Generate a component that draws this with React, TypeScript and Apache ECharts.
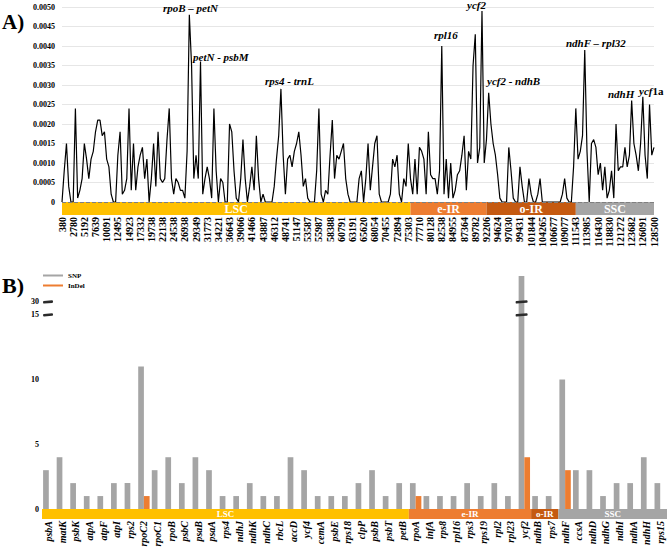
import React, { useEffect, useRef } from "react";
import * as echarts from "echarts";

// ---------- Panel A data ----------
const TICK_LABELS = [
  "380", "2780", "5192", "7639", "10091", "12495", "14923", "17332", "19738", "22138",
  "24538", "26938", "29349", "31773", "34221", "36643", "39066", "41466", "43887", "46312",
  "48741", "51147", "53587", "55987", "58388", "60791", "63191", "65620", "68054", "70455",
  "72894", "75303", "77710", "80128", "82538", "84955", "87364", "89782", "92206", "94624",
  "97030", "99431", "101844", "104265", "106677", "109077", "111543", "113985", "116430", "118830",
  "121272", "123682", "126091", "128500",
];
const POINTS_PER_TICK = 5;

const PI_VALUES = [
  0, 0.0008, 0.0015, 0.0004, 0, 0, 0.0024, 0.0001, 0.0003, 0.0006,
  0.0015, 0.0011, 0.0006, 0.0011, 0.0013, 0.0018, 0.0021, 0.0021, 0.0017, 0.0018,
  0.0011, 0.0009, 0.0002, 0, 0, 0.0012, 0.0018, 0.0002, 0.0003, 0.0006,
  0.0024, 0.0003, 0.0015, 0.0003, 0.0009, 0.0012, 0.0014, 0.0006, 0.0011, 0,
  0.0006, 0.0015, 0.0004, 0.0018, 0.0006, 0.0005, 0.0006, 0.0016, 0.0024, 0.0006,
  0.0002, 0.0006, 0.0005, 0.0003, 0.0003, 0.0001, 0.0013, 0.0048, 0.0035, 0.0006,
  0.0012, 0.0006, 0.0036, 0.0002, 0.0006, 0.0009, 0.0006, 0.0001, 0.0024, 0.0008,
  0, 0.0006, 0.0005, 0, 0, 0.002, 0.0018, 0.0008, 0.0001, 0,
  0.0006, 0.0016, 0.0006, 0, 0.0004, 0.0009, 0.0003, 0.0017, 0.0006, 0,
  0.0002, 0, 0, 0, 0, 0.0004, 0.0011, 0.0017, 0.0029, 0.0012,
  0.0002, 0.0011, 0.0012, 0.0009, 0.0013, 0.0015, 0.0018, 0.0012, 0.0004, 0.0006,
  0.0001, 0, 0, 0, 0.0008, 0.0024, 0.0002, 0, 0.0003, 0.0002,
  0.0012, 0.0021, 0.0006, 0.0012, 0.0011, 0.0013, 0.0015, 0.0006, 0.0002, 0,
  0, 0, 0, 0.0006, 0.0008, 0, 0.0006, 0.0015, 0.0003, 0.0009,
  0.0015, 0.0017, 0.0002, 0, 0, 0, 0, 0.0002, 0.0011, 0.0009,
  0.0012, 0.0002, 0, 0.0006, 0.0004, 0.0015, 0.0006, 0.0002, 0.0011, 0.0002,
  0.0014, 0.0013, 0.0011, 0.0002, 0.0018, 0.0007, 0.0006, 0.0006, 0.0002, 0.0008,
  0.004, 0.0002, 0.0011, 0.0001, 0.001, 0.0001, 0.0003, 0.0007, 0.0008, 0.0012,
  0.0017, 0.0003, 0.0013, 0.0011, 0.0035, 0.0043, 0.001, 0.0014, 0.0049, 0.001,
  0.0016, 0.0028, 0.002, 0.0015, 0.0012, 0.0007, 0.0001, 0, 0, 0,
  0.0014, 0.0008, 0.0001, 0, 0, 0.0009, 0.0004, 0, 0, 0.0006,
  0.0002, 0, 0, 0.0002, 0.0006, 0, 0, 0, 0, 0,
  0, 0, 0, 0, 0.0002, 0.0006, 0.0001, 0, 0, 0.0009,
  0.0024, 0.0011, 0.0013, 0.0017, 0.0039, 0.0013, 0, 0.0015, 0.0016, 0.0014,
  0.0007, 0.001, 0.0003, 0.0009, 0.0001, 0.0003, 0.0008, 0.0001, 0.002, 0.0008,
  0.0009, 0.0009, 0.0014, 0.0009, 0.0012, 0.0026, 0.0015, 0.0012, 0.0008, 0.0015,
  0.0027, 0.0012, 0.0006, 0.0025, 0.0012, 0.0014,
];
const PI_THRESHOLD = 0.0025;

const REGIONS = ["LSC", "e-IR", "o-IR", "SSC"];
const REGION_A_SPANS = [156, 34, 40, 35];
const REGION_COLORS = ["#FFC000", "#ED7D31", "#C55A11", "#A5A5A5"];

// ---------- Panel B data ----------
const GENES = [
  "psbA", "matK", "psbK", "atpA", "atpF", "atpI", "rps2", "rpoC2", "rpoC1", "rpoB",
  "psbC", "psaB", "psaA", "rps4", "ndhJ", "ndhK", "ndhC", "rbcL", "accD", "ycf4",
  "cemA", "psbE", "rps18", "clpP", "psbB", "psbT", "petB", "rpoA", "infA", "rps8",
  "rpl16", "rps3", "rps19", "rpl2", "rpl23", "ycf2", "ndhB", "rps7", "ndhF", "ccsA",
  "ndhD", "ndhG", "ndhI", "ndhA", "ndhH", "rps15",
];
const SNP = [
  3, 4, 2, 1, 1, 2, 2, 11, 3, 4,
  2, 4, 3, 1, 1, 2, 1, 1, 4, 3,
  1, 1, 1, 2, 3, 1, 2, 2, 1, 1,
  1, 2, 1, 2, 1, 32, 1, 1, 10, 3,
  3, 1, 2, 2, 4, 2,
];
const INDEL = [
  0, 0, 0, 0, 0, 0, 0, 1, 0, 0,
  0, 0, 0, 0, 0, 0, 0, 0, 0, 0,
  0, 0, 0, 0, 0, 0, 0, 1, 0, 0,
  0, 0, 0, 0, 0, 4, 0, 0, 3, 0,
  0, 0, 0, 0, 0, 0,
];
const REGION_B_SPANS = [27, 9, 2, 8];
const B_TICKS = [0, 5, 10, 15, 30];
const BREAK_LOW = 15;
const BREAK_HIGH = 30;

const FONT = "'Times New Roman', 'Liberation Serif', serif";

// broken axis: values above the break are shifted down so that 30 sits just above 15
const toDisplay = (v: number) => (v > BREAK_LOW ? v - (BREAK_HIGH - BREAK_LOW - 1) : v);
const fromDisplay = (d: number) => (d > BREAK_LOW ? d + (BREAK_HIGH - BREAK_LOW - 1) : d);

function regionSeries(spans: number[], xi: number, yi: number, stack: string, fontSize: number) {
  return REGIONS.map((name, k) => ({
    type: "bar",
    name,
    xAxisIndex: xi,
    yAxisIndex: yi,
    stack,
    barWidth: "100%",
    silent: true,
    data: [spans[k]],
    itemStyle: { color: REGION_COLORS[k] },
    label: {
      show: true,
      position: "inside",
      formatter: name,
      color: "#fff",
      fontFamily: FONT,
      fontWeight: "bold",
      fontSize,
    },
  }));
}

export default function App() {
  const ref = useRef<HTMLDivElement>(null);

  useEffect(() => {
    const chart = echarts.init(ref.current!, null, { renderer: "svg" });
    const totalA = REGION_A_SPANS.reduce((a, b) => a + b, 0);
    const totalB = REGION_B_SPANS.reduce((a, b) => a + b, 0);

    const option: any = {
      animation: false,
      backgroundColor: "#fff",
      grid: [
        { left: 62, top: 7, width: 592, height: 195 },
        { left: 62, top: 202, width: 592, height: 13 },
        { left: 42, top: 276, width: 625, height: 233 },
        { left: 42, top: 509, width: 625, height: 10 },
      ],
      legend: {
        data: ["SNP", "InDel"],
        orient: "vertical",
        left: 43,
        top: 272,
        padding: 0,
        itemWidth: 20,
        itemHeight: 2,
        itemGap: 3,
        icon: "rect",
        selectedMode: false,
        textStyle: { fontFamily: FONT, fontWeight: "bold", fontSize: 7, color: "#000" },
      },
      xAxis: [
        {
          gridIndex: 0,
          type: "category",
          data: PI_VALUES.map((_, i) => String(i)),
          boundaryGap: false,
          axisLine: { show: false },
          axisTick: { show: false },
          splitLine: { show: false },
          axisLabel: {
            interval: POINTS_PER_TICK - 1,
            rotate: 90,
            margin: 15,
            fontFamily: FONT,
            fontWeight: "bold",
            fontSize: 10,
            color: "#000",
            formatter: (v: string) => TICK_LABELS[Number(v) / POINTS_PER_TICK] ?? "",
          },
        },
        { gridIndex: 1, type: "value", min: 0, max: totalA, show: false },
        {
          gridIndex: 2,
          type: "category",
          data: GENES,
          axisLine: { show: false },
          axisTick: { show: false },
          axisLabel: {
            interval: 0,
            rotate: 90,
            margin: 12,
            fontFamily: FONT,
            fontStyle: "italic",
            fontWeight: "bold",
            fontSize: 10,
            color: "#000",
          },
        },
        { gridIndex: 3, type: "value", min: 0, max: totalB, show: false },
      ],
      yAxis: [
        {
          gridIndex: 0,
          type: "value",
          min: 0,
          max: 0.005,
          interval: 0.0005,
          axisLine: { show: false },
          axisTick: { show: false },
          splitLine: { lineStyle: { color: "#e6e6e6", width: 1 } },
          axisLabel: {
            margin: 7,
            fontFamily: FONT,
            fontWeight: "bold",
            fontSize: 8,
            color: "#000",
            formatter: (v: number) => (v === 0 ? "0" : v.toFixed(4)),
          },
        },
        { gridIndex: 1, type: "category", data: ["A"], show: false },
        {
          gridIndex: 2,
          type: "value",
          min: 0,
          max: toDisplay(Math.max(...SNP)),
          interval: 1,
          axisLine: { show: false },
          axisTick: { show: false },
          splitLine: { show: false },
          axisLabel: {
            margin: 3,
            fontFamily: FONT,
            fontWeight: "bold",
            fontSize: 8,
            color: "#000",
            formatter: (d: number) => {
              const r = fromDisplay(d);
              return B_TICKS.includes(r) ? String(r) : "";
            },
          },
        },
        { gridIndex: 3, type: "category", data: ["B"], show: false },
      ],
      series: [
        {
          type: "line",
          name: "Pi",
          xAxisIndex: 0,
          yAxisIndex: 0,
          data: PI_VALUES,
          showSymbol: false,
          lineStyle: { color: "#000", width: 1.2 },
          markLine: {
            silent: true,
            symbol: "none",
            label: { show: false },
            lineStyle: { color: "#7f7f7f", type: "dashed", width: 1 },
            data: [{ yAxis: PI_THRESHOLD }],
          },
        },
        ...regionSeries(REGION_A_SPANS, 1, 1, "ra", 12),
        {
          type: "bar",
          name: "SNP",
          xAxisIndex: 2,
          yAxisIndex: 2,
          barWidth: 5.7,
          barGap: "0%",
          data: SNP.map(toDisplay),
          itemStyle: { color: "#A5A5A5" },
        },
        {
          type: "bar",
          name: "InDel",
          xAxisIndex: 2,
          yAxisIndex: 2,
          barWidth: 5.7,
          barGap: "0%",
          data: INDEL.map(toDisplay),
          itemStyle: { color: "#ED7D31" },
        },
        ...regionSeries(REGION_B_SPANS, 3, 3, "rb", 9),
      ],
    };
    chart.setOption(option);

    const y15 = chart.convertToPixel({ yAxisIndex: 2 }, BREAK_LOW) as number;
    const y30 = chart.convertToPixel({ yAxisIndex: 2 }, toDisplay(BREAK_HIGH)) as number;
    const bigIdx = SNP.indexOf(Math.max(...SNP));
    const xBig = (chart.convertToPixel({ xAxisIndex: 2 }, GENES[bigIdx]) as number) - 2.85;

    const breakMark = (cx: number, cy: number, w: number) => ({
      type: "rect",
      shape: { x: cx - w / 2, y: cy - 1.3, width: w, height: 2.6, r: 1 },
      style: { fill: "#2b2b2b" },
      rotation: 0.08,
      originX: cx,
      originY: cy,
      z: 100,
    });

    const peak = (text: string, x: number, y: number) => ({
      type: "text",
      x,
      y,
      style: {
        text,
        fontFamily: FONT,
        fontStyle: "italic",
        fontWeight: "bold",
        fontSize: 11,
        fill: "#000",
        verticalAlign: "middle",
      },
      z: 100,
    });

    chart.setOption({
      graphic: [
        { type: "text", x: 2, y: 22, style: { text: "A)", fontFamily: FONT, fontWeight: "bold", fontSize: 21, fill: "#000", verticalAlign: "middle" } },
        { type: "text", x: 2, y: 285, style: { text: "B)", fontFamily: FONT, fontWeight: "bold", fontSize: 22, fill: "#000", verticalAlign: "middle" } },
        peak("rpoB – petN", 163, 8),
        peak("petN - psbM", 193, 57),
        peak("rps4 - trnL", 265, 81),
        peak("rpl16", 434, 35),
        peak("ycf2", 467, 5),
        peak("ycf2 - ndhB", 487, 81),
        peak("ndhF – rpl32", 566, 43),
        peak("ndhH", 608, 94),
        {
          type: "text",
          x: 639,
          y: 91,
          style: {
            text: "{i|ycf}{n|1a}",
            verticalAlign: "middle",
            rich: {
              i: { fontFamily: FONT, fontStyle: "italic", fontWeight: "bold", fontSize: 11, fill: "#000" },
              n: { fontFamily: FONT, fontWeight: "bold", fontSize: 11, fill: "#000" },
            },
          },
          z: 100,
        },
        breakMark(48, y30, 10),
        breakMark(48, y15, 10),
        breakMark(xBig, y30, 12),
        breakMark(xBig, y15, 12),
      ],
    });

    return () => chart.dispose();
  }, []);

  return (
    <div
      ref={ref}
      style={{ position: "fixed", left: 0, top: 0, width: 669, height: 550, background: "#fff" }}
    />
  );
}
